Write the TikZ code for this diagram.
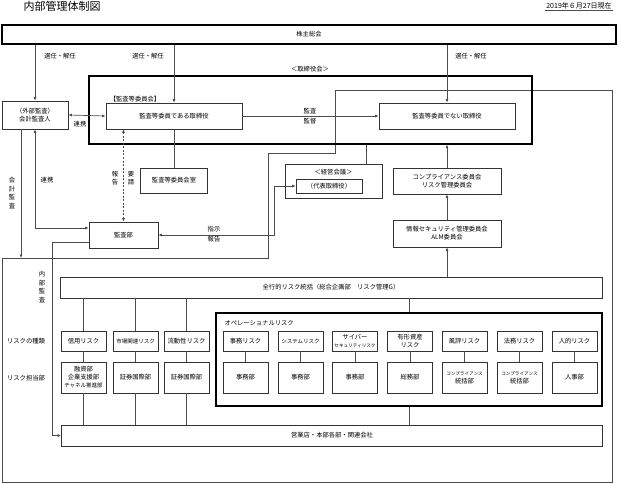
\documentclass[tikz,border=0pt]{standalone}
\usepackage{fontspec}
\setmainfont{Noto Sans CJK JP}
\usetikzlibrary{arrows.meta}
\newcommand\smtxt[1]{{\fontsize{5.5}{6.5}\selectfont #1}}
\newcommand\tinytxt[1]{{\fontsize{4.6}{6}\selectfont #1}}

\begin{document}
\begin{tikzpicture}[x=1pt,y=-1pt,
  font=\fontsize{6.3}{8}\selectfont,
  box/.style={draw=black!80,line width=0.7pt,fill=white,inner sep=1pt,align=center},
  heavybox/.style={draw=black,line width=1.3pt},
  link/.style={draw=black!70,line width=0.7pt},
  arr/.style={link,-{Latex[length=3.5pt,width=3pt]}},
  arrs/.style={link,{Latex[length=3.5pt,width=3pt]}-{Latex[length=3.5pt,width=3pt]}},
  dotline/.style={dash pattern=on 2pt off 1.5pt},
  vert/.style={align=center,font=\fontsize{6.3}{8.5}\selectfont},
  pair/.style={align=center,font=\fontsize{6.3}{10}\selectfont}]
\useasboundingbox (0,0) rectangle (621,484);
% frame of the executive side
\draw[link] (335,90) -- (612,90) -- (612,482) -- (2,482) -- (2,258) -- (268,258) -- (268,153) -- (335,153) -- cycle;

\node[anchor=west,font=\fontsize{11}{13}\selectfont] (title) at (20,6) {内部管理体制図};
\node[inner sep=1pt,font=\fontsize{7}{8}\selectfont] (date) at (579,6) {2019年６月27日現在};
\draw[link] (date.south west) -- (date.south east);

\node[box,heavybox,minimum width=614,minimum height=19] (agm) at (309,34.5) {株主総会};
\node[box,minimum width=66,minimum height=28] (extaud) at (35,115) {（外部監査）\\会計監査人};

% board
\node[heavybox,minimum width=443,minimum height=68] (board) at (310.5,110) {};
\node (boardlbl) at (310,69) {＜取締役会＞};
\node (acclbl) at (135,99) {【監査等委員会】};
\node[box,minimum width=136,minimum height=26] (acdir) at (174,116) {監査等委員である取締役};
\node[box,minimum width=136,minimum height=26] (nacdir) at (447,116) {監査等委員でない取締役};

\node[box,minimum width=67,minimum height=25] (acroom) at (174,180.5) {監査等委員会室};
\node[box,minimum width=97,minimum height=34] (mtg) at (333.5,181) {};
\node (mtglbl) at (333.5,172) {＜経営会議＞};
\node[box,minimum width=66,minimum height=14] (rep) at (329,186) {（代表取締役）};
\node[box,minimum width=108,minimum height=26] (comp) at (447,181) {コンプライアンス委員会\\リスク管理委員会};
\node[box,minimum width=108,minimum height=27] (infosec) at (447,233.5) {情報セキュリティ管理委員会\\ALM委員会};
\node[box,minimum width=69,minimum height=26] (audit) at (123.5,235) {監査部};

% risk management
\node[box,minimum width=542,minimum height=21] (allrisk) at (331,287.5) {全行的リスク統括（総合企画部　リスク管理G）};
\node[box,minimum width=541,minimum height=21] (branch) at (332,435.5) {営業店・本部各部・関連会社};
\node[heavybox,minimum width=386,minimum height=93] (op) at (409,359.5) {};
\node[anchor=west] (oplbl) at (221,323) {オペレーショナルリスク};

\node[vert] (ialbl) at (42,287) {内\\部\\監\\査};
\node (kindlbl) at (26,341) {リスクの種類};
\node (deptlbl) at (26,378) {リスク担当部};

\foreach \x/\rsk/\dpt [count=\i] in {
  83.5/信用リスク/{融資部\\企業支援部\\\smtxt{チャネル推進部}},
  135.5/\smtxt{市場関連リスク}/証券国際部,
  186.5/流動性リスク/証券国際部,
  245.5/事務リスク/事務部,
  300.5/\smtxt{システムリスク}/事務部,
  355/{サイバー\\\tinytxt{セキュリティリスク}}/事務部,
  410/{有形資産\\リスク}/総務部,
  464.5/風評リスク/{\tinytxt{コンプライアンス}\\統括部},
  519.5/法務リスク/{\tinytxt{コンプライアンス}\\統括部},
  574.5/人的リスク/人事部} {
  \node[box,minimum width=45,minimum height=20] (r\i) at (\x,341) {\rsk};
  \node[box,minimum width=45,minimum height=31] (d\i) at (\x,377.5) {\dpt};
  \draw[link] (r\i) -- (d\i);
}
\foreach \i in {1,2,3} {
  \draw[link] (r\i.north |- allrisk.south) -- (r\i.north);
  \draw[link] (d\i.south) -- (d\i.south |- branch.north);
}

% connectors
\draw[arr] (agm.south -| extaud.north) -- (extaud.north);
\node (sel1) at (60,56) {選任・解任};
\draw[arr] (agm.south -| acdir.north) -- (acdir.north);
\node (sel2) at (148,56) {選任・解任};
\draw[arr] (agm.south -| nacdir.north) -- (nacdir.north);
\node (sel3) at (471,56) {選任・解任};

\draw[arrs] (extaud.east) -- (acdir.west);
\node (coop1) at (80,124) {連携};
\draw[arr] (acdir.east) -- (nacdir.west);
\node[pair] (supv) at (310,116) {監査\\監督};

\draw[arrs,dotline] (acdir.south -| audit.north) -- (audit.north);
\node[vert] (rptlbl) at (115,178) {報\\告};
\node[vert] (reqlbl) at (131,178) {要\\請};
\draw[link] (acdir.south) -- (acroom.north);

\draw[arrs] (extaud.south) |- ([yshift=7pt]audit.west);
\node (coop2) at (47,180) {連携};
\coordinate (acctin) at (21,258);
\draw[arr] (extaud.south -| acctin) -- (acctin);
\node[vert] (acctlbl) at (12,193) {会\\計\\監\\査};

\coordinate (bend) at (274,235);
\draw[arrs] (audit.east) -- (bend) |- (rep.west);
\node[pair] (instr) at (214,234) {指示\\報告};

\coordinate (mtgtop) at (366,164);
\draw[link] (board.south -| mtgtop) -- (mtgtop);
\draw[arr] (comp.north) -- (comp.north |- board.south);
\draw[arr] (infosec.north) -- (comp.south);
\draw[arr] (infosec.south |- allrisk.north) -- (infosec.south);
\draw[link] (op.north |- allrisk.south) -- (op.north);
\draw[link] (op.south) -- (op.south |- branch.north);
\draw[arr] ([yshift=-7pt]audit.west) -- ++(-36,0) |- (branch.west);
\end{tikzpicture}
\end{document}
